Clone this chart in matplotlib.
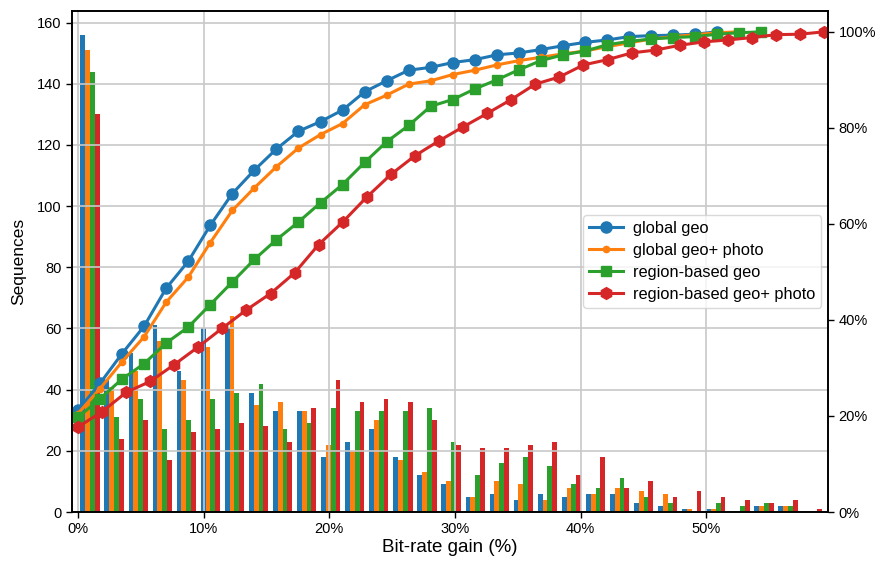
import numpy as np
import matplotlib
matplotlib.use("Agg")
import matplotlib.pyplot as plt
from matplotlib.ticker import PercentFormatter

plt.rcParams['font.family'] = ['Liberation Sans', 'DejaVu Sans']

# ---------------- data ----------------
labels = ["global geo", "global geo+ photo", "region-based geo", "region-based geo+ photo"]
colors = ["#1f77b4", "#ff7f0e", "#2ca02c", "#d62728"]

# histogram (counts per bin), common bins of width bin_w (%) starting at 0
bin_w = 1.916
hist_global_geo = [156, 43, 52, 61, 46, 60, 60, 39, 33, 33, 18, 23, 27, 18, 12, 9,
                   5, 6, 4, 6, 5, 6, 6, 3, 2, 1, 1, 0, 2, 2, 0]
hist_global_photo = [151, 41, 46, 56, 43, 54, 64, 35, 36, 33, 22, 20, 30, 17, 13, 10,
                     5, 10, 9, 4, 8, 6, 8, 7, 6, 1, 1, 0, 2, 2, 0]
hist_region_geo = [144, 31, 37, 27, 30, 37, 39, 42, 27, 29, 34, 33, 33, 33, 34, 23,
                   12, 16, 18, 15, 9, 8, 11, 5, 3, 0, 3, 2, 3, 2, 0]
hist_region_photo = [130, 24, 30, 17, 26, 27, 29, 28, 23, 34, 43, 36, 37, 36, 30, 22,
                     21, 21, 22, 23, 12, 18, 8, 10, 5, 7, 5, 4, 3, 4, 1]

# cumulative fractions (right axis); each series sampled at its own step (%)
step_global_geo = 1.755
cum_global_geo = [0.212, 0.268, 0.330, 0.387, 0.466, 0.522, 0.597, 0.663, 0.712, 0.756,
                  0.793, 0.813, 0.837, 0.875, 0.898, 0.920, 0.926, 0.936, 0.942, 0.952,
                  0.956, 0.963, 0.971, 0.978, 0.983, 0.990, 0.992, 0.993, 0.995, 1.000]
step_global_photo = 1.755
cum_global_photo = [0.205, 0.257, 0.313, 0.365, 0.437, 0.489, 0.561, 0.628, 0.675, 0.719,
                    0.758, 0.786, 0.809, 0.848, 0.868, 0.891, 0.898, 0.911, 0.920, 0.931,
                    0.940, 0.947, 0.954, 0.960, 0.969, 0.977, 0.985, 0.990, 0.994, 0.998,
                    1.000]
step_region_geo = 1.755
cum_region_geo = [0.197, 0.236, 0.277, 0.309, 0.352, 0.385, 0.432, 0.479, 0.526, 0.567,
                  0.604, 0.644, 0.682, 0.728, 0.771, 0.805, 0.845, 0.859, 0.881, 0.900,
                  0.921, 0.940, 0.952, 0.960, 0.973, 0.980, 0.985, 0.988, 0.990, 0.995,
                  0.998, 1.000]
step_region_photo = 1.916
cum_region_photo = [0.177, 0.209, 0.249, 0.272, 0.307, 0.344, 0.383, 0.421, 0.455, 0.498,
                    0.557, 0.604, 0.656, 0.703, 0.742, 0.773, 0.802, 0.830, 0.859, 0.891,
                    0.906, 0.931, 0.942, 0.956, 0.962, 0.972, 0.979, 0.983, 0.988, 0.994,
                    0.995, 1.000]

n_total = 157
x_ticks = [0, 10, 20, 30, 40, 50]
left_ticks = [0, 20, 40, 60, 80, 100, 120, 140, 160]
right_ticks = [0, 0.2, 0.4, 0.6, 0.8, 1.0]

# ---------------- plot ----------------
fig = plt.figure(figsize=(8.83, 5.61), dpi=100)
ax = fig.add_axes([0.0815, 0.0873, 0.8562, 0.8931])

hists = [hist_global_geo, hist_global_photo, hist_region_geo, hist_region_photo]
nbins = len(hist_global_geo)
centers = (np.arange(nbins) + 0.5) * bin_w
bw = 0.8 * bin_w / 4
for k, (h, c) in enumerate(zip(hists, colors)):
    ax.bar(centers - 0.4 * bin_w + (k + 0.5) * bw, h, width=bw, color=c, zorder=1)

ax.set_xlim(-0.48, 59.7)
ax.set_ylim(0, 163.8)
ax.set_xticks(x_ticks)
ax.set_yticks(left_ticks)
ax.xaxis.set_major_formatter(PercentFormatter(xmax=100, decimals=0))
ax.grid(True, color="#c8c8c8", linewidth=1.2)
ax.set_xlabel("Bit-rate gain (%)", fontsize=13.5, labelpad=2)
ax.set_ylabel("Sequences", fontsize=12.5, labelpad=8)
ax.tick_params(labelsize=10.5, length=4, width=1, color="black")

ax2 = ax.twinx()
series = [
    (step_global_geo, cum_global_geo, "o", 8),
    (step_global_photo, cum_global_photo, "o", 4.5),
    (step_region_geo, cum_region_geo, "s", 7.5),
    (step_region_photo, cum_region_photo, "h", 8.5),
]
for (st, cum, mk, ms), c, lab in zip(series, colors, labels):
    xs = np.arange(len(cum)) * st
    ax2.plot(xs, cum, color=c, marker=mk, markersize=ms, linewidth=2.2, label=lab)

ax2.set_ylim(0, 163.8 / n_total)
ax2.set_yticks(right_ticks)
ax2.yaxis.set_major_formatter(PercentFormatter(xmax=1, decimals=0))
ax2.tick_params(labelsize=10.5, length=4, width=1, color="black")

for a in (ax, ax2):
    for s in a.spines.values():
        s.set_color("black")
        s.set_linewidth(1.2)

leg = ax2.legend(loc="center right", fontsize=11.8, frameon=True, fancybox=True,
                 edgecolor="#d0d0d0", handlelength=2.1, handletextpad=0.6,
                 labelspacing=0.42, borderpad=0.35, borderaxespad=0.4)

fig.savefig("out.png", dpi=100)
